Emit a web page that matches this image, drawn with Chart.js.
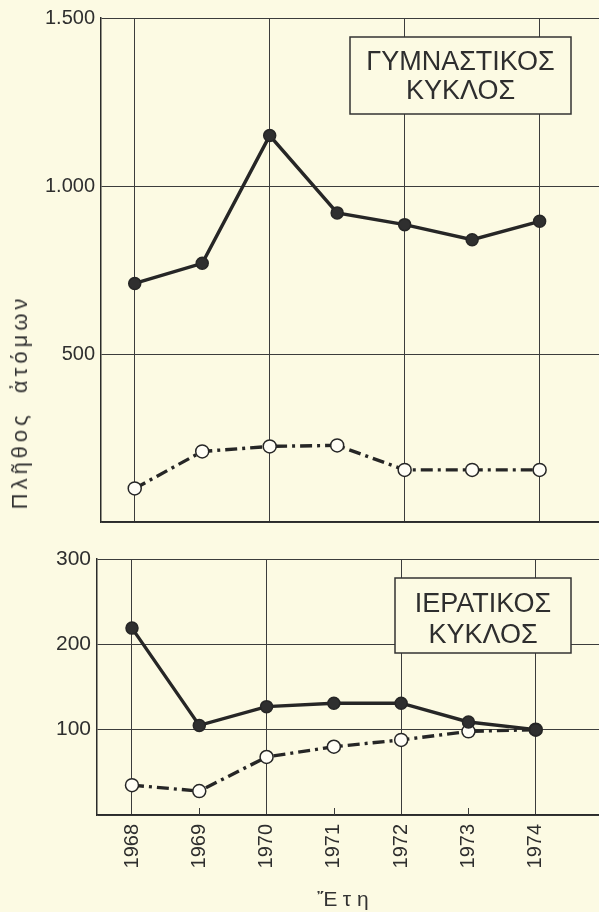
<!DOCTYPE html>
<html>
<head>
<meta charset="utf-8">
<script src="https://cdn.jsdelivr.net/npm/chart.js@4.4.1/dist/chart.umd.min.js"></script>
<style>
    html, body { margin: 0; padding: 0; background: #fcfae3; }
    #page { position: relative; width: 599px; height: 912px; overflow: hidden; }
    #chart-top { position: absolute; left: 0; top: 0; }
    #chart-bottom { position: absolute; left: 0; top: 540px; }
    .y-title {
        position: absolute; left: 20px; top: 402px;
        transform: translate(-50%, -50%) rotate(-90deg);
        white-space: nowrap; color: #333;
        font: 22px "Liberation Sans", sans-serif; letter-spacing: 4px; word-spacing: 8px;
    }
    .x-title {
        position: absolute; left: 346px; top: 899px;
        transform: translate(-50%, -50%);
        white-space: nowrap; color: #333;
        font: 21px "Liberation Sans", sans-serif; letter-spacing: 6px;
    }
</style>
</head>
<body>
<div id="page">
    <canvas id="chart-top" width="599" height="540"></canvas>
    <canvas id="chart-bottom" width="599" height="372"></canvas>
    <div class="y-title">Πλῆθος ἀτόμων</div>
    <div class="x-title">Ἔτη</div>
</div>
<script>
// ---- data ----
const years = [1968, 1969, 1970, 1971, 1972, 1973, 1974];

// Γυμναστικός κύκλος
const gymSolid  = [710, 770, 1150, 920, 885, 840, 895];
const gymDashed = [100, 210, 225, 228, 155, 155, 155];
const gymTicks  = [0, 500, 1000, 1500];
const gymLabel  = ['ΓΥΜΝΑΣΤΙΚΟΣ', 'ΚΥΚΛΟΣ'];

// Ιερατικός κύκλος
const ierSolid  = [219, 105, 127, 131, 131, 109, 100];
const ierDashed = [35, 28, 68, 80, 88, 98, 100];
const ierTicks  = [0, 100, 200, 300];
const ierLabel  = ['ΙΕΡΑΤΙΚΟΣ', 'ΚΥΚΛΟΣ'];

// ---- look ----
const PAPER = '#fcfae3';
const INK = '#262626';
const GRID = '#3c3c3c';
const TEXT = '#2e2e2e';

const toPoints = (vals) => years.map((yr, i) => ({ x: yr, y: vals[i] }));

const fmtThousands = (v) => String(v).replace(/\B(?=(\d{3})+(?!\d))/g, '.');

// Framed caption inside the plot area
const labelBox = {
    id: 'labelBox',
    beforeDatasetsDraw(chart, args, opts) {
        const { ctx, chartArea } = chart;
        const x = chartArea.right - opts.right - opts.width;
        const y = chartArea.top + opts.top;
        ctx.save();
        ctx.fillStyle = PAPER;
        ctx.fillRect(x, y, opts.width, opts.height);
        ctx.strokeStyle = '#333';
        ctx.lineWidth = 1.5;
        ctx.strokeRect(x, y, opts.width, opts.height);
        ctx.fillStyle = TEXT;
        ctx.font = '27px "Liberation Sans", sans-serif';
        ctx.textAlign = 'center';
        ctx.textBaseline = 'alphabetic';
        opts.lines.forEach((t, i) => ctx.fillText(t, x + opts.width / 2, y + opts.baselines[i]));
        ctx.restore();
    }
};

// Short inner ticks on the odd years
const oddTicks = {
    id: 'oddTicks',
    beforeDatasetsDraw(chart, args, opts) {
        if (!opts.show) return;
        const { ctx, chartArea, scales } = chart;
        ctx.save();
        ctx.strokeStyle = GRID;
        ctx.lineWidth = 1;
        years.filter(yr => yr % 2 === 1).forEach(yr => {
            const px = Math.round(scales.x.getPixelForValue(yr)) + 0.5;
            ctx.beginPath();
            ctx.moveTo(px, chartArea.bottom);
            ctx.lineTo(px, chartArea.bottom - 7);
            ctx.stroke();
        });
        ctx.restore();
    }
};

function makeDatasets(solid, dashed) {
    return [
        {
            data: toPoints(solid),
            borderColor: INK,
            borderWidth: 3.4,
            pointRadius: 6,
            pointBackgroundColor: '#2f2f2f',
            pointBorderColor: INK,
            pointBorderWidth: 1.5,
            tension: 0
        },
        {
            data: toPoints(dashed),
            borderColor: INK,
            borderWidth: 3.4,
            borderDash: [12, 5, 3, 5],
            pointRadius: 6.5,
            pointBackgroundColor: '#fffef6',
            pointBorderColor: INK,
            pointBorderWidth: 1.5,
            tension: 0
        }
    ];
}

function makeChart(id, cfg) {
    return new Chart(document.getElementById(id), {
        type: 'line',
        data: { datasets: makeDatasets(cfg.solid, cfg.dashed) },
        plugins: [labelBox, oddTicks],
        options: {
            responsive: false,
            animation: false,
            layout: { autoPadding: false, padding: { top: cfg.padTop, right: 0, bottom: 0, left: 0 } },
            scales: {
                x: {
                    type: 'linear',
                    min: cfg.xMin,
                    max: cfg.xMax,
                    afterBuildTicks: (s) => { s.ticks = years.map(v => ({ value: v })); },
                    afterFit: (s) => { s.height = cfg.xHeight; },
                    grid: {
                        color: (c) => (c.tick && c.tick.value % 2 === 0) ? GRID : 'rgba(0,0,0,0)',
                        lineWidth: 1,
                        drawTicks: false
                    },
                    border: { display: true, color: '#2b2b2b', width: 1.5 },
                    ticks: {
                        display: cfg.showYears,
                        minRotation: 90,
                        maxRotation: 90,
                        padding: 9,
                        color: TEXT,
                        font: { family: '"Liberation Sans", sans-serif', size: 20 },
                        callback: (v) => String(v)
                    }
                },
                y: {
                    min: 0,
                    max: cfg.yTicks[cfg.yTicks.length - 1],
                    afterBuildTicks: (s) => { s.ticks = cfg.yTicks.map(v => ({ value: v })); },
                    afterFit: (s) => { s.width = cfg.yWidth; },
                    grid: { color: GRID, lineWidth: 1, drawTicks: false },
                    border: { display: true, color: '#2b2b2b', width: 1.5 },
                    ticks: {
                        padding: 6,
                        color: TEXT,
                        font: { family: '"Liberation Sans", sans-serif', size: cfg.yFont },
                        callback: (v) => v === 0 ? '' : fmtThousands(v)
                    }
                }
            },
            plugins: {
                legend: { display: false },
                tooltip: { enabled: false },
                labelBox: cfg.box,
                oddTicks: { show: cfg.showYears }
            }
        }
    });
}

makeChart('chart-top', {
    solid: gymSolid,
    dashed: gymDashed,
    yTicks: gymTicks,
    yWidth: 101,
    yFont: 20,
    padTop: 13,
    xHeight: 16,
    xMin: 1967.5,
    xMax: 1974.88,
    showYears: false,
    box: { lines: gymLabel, right: 28, top: 19, width: 221, height: 77, baselines: [33, 62] }
});

makeChart('chart-bottom', {
    solid: ierSolid,
    dashed: ierDashed,
    yTicks: ierTicks,
    yWidth: 97,
    yFont: 21,
    padTop: 19,
    xHeight: 97,
    xMin: 1967.48,
    xMax: 1974.94,
    showYears: true,
    box: { lines: ierLabel, right: 28, top: 19, width: 176, height: 75, baselines: [34, 65] }
});
</script>
</body>
</html>
